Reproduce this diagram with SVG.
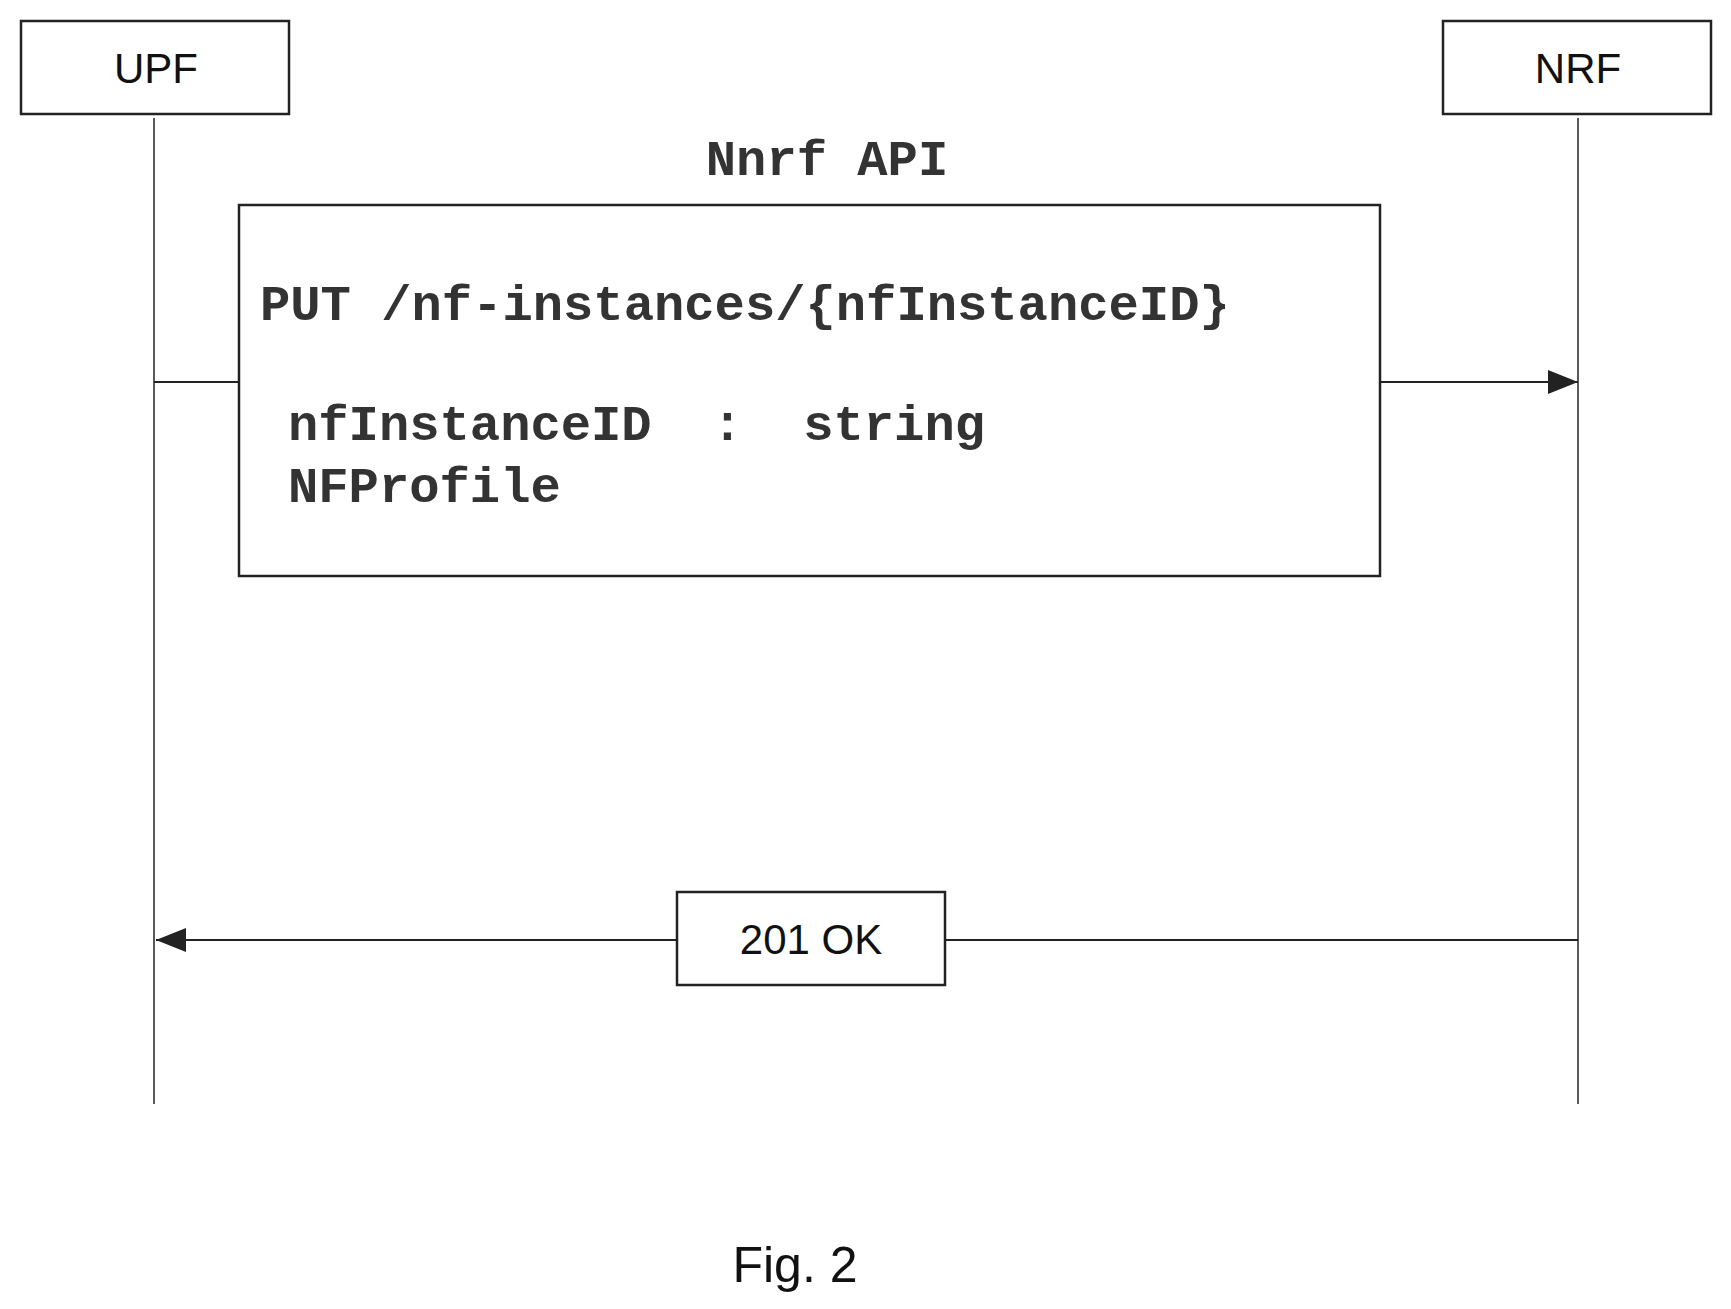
<svg xmlns="http://www.w3.org/2000/svg" width="1731" height="1309" viewBox="0 0 1731 1309">
<defs>
<style>
.box{fill:#fff;stroke:#222;stroke-width:2.5}
.life{stroke:#222;stroke-width:1.5}
.msg{stroke:#222;stroke-width:2}
.sans{font-family:"Liberation Sans Narrow","Liberation Sans",sans-serif;font-size:42px;fill:#111}
.mono{font-family:"Liberation Mono",monospace;font-weight:bold;font-size:50.5px;fill:#333}
</style>
<marker id="ah" viewBox="0 0 20 16" refX="20" refY="8" markerWidth="40" markerHeight="24" markerUnits="userSpaceOnUse" orient="auto">
<path d="M0,0 L20,8 L0,16 Z" fill="#222"/>
</marker>
</defs>
<rect width="1731" height="1309" fill="#fff"/>
<g id="upf">
<rect class="box" x="21" y="21" width="268" height="93"/>
<text class="sans" x="156" y="83" text-anchor="middle">UPF</text>
</g>
<g id="nrf">
<rect class="box" x="1443" y="21" width="268" height="93"/>
<text class="sans" x="1578" y="83" text-anchor="middle">NRF</text>
</g>
<g id="connectors">
<line class="life" x1="154" y1="118" x2="154" y2="1104"/>
<line class="life" x1="1578" y1="118" x2="1578" y2="1104"/>
<line class="msg" x1="154" y1="382" x2="239" y2="382"/>
<line class="msg" x1="1380" y1="382" x2="1578" y2="382" marker-end="url(#ah)"/>
<line class="msg" x1="1578" y1="940" x2="945" y2="940"/>
<line class="msg" x1="677" y1="940" x2="156" y2="940" marker-end="url(#ah)"/>
</g>
<text class="mono" x="827" y="175" text-anchor="middle">Nnrf API</text>
<g id="request">
<rect class="box" x="239" y="205" width="1141" height="371"/>
<text class="mono" x="260" y="320" xml:space="preserve">PUT /nf-instances/{nfInstanceID}</text>
<text class="mono" x="288" y="440" xml:space="preserve">nfInstanceID  :  string</text>
<text class="mono" x="288" y="502">NFProfile</text>
</g>
<g id="response">
<rect class="box" x="677" y="892" width="268" height="93"/>
<text class="sans" x="811" y="954" text-anchor="middle">201 OK</text>
</g>
<text class="sans" x="795" y="1282" text-anchor="middle" style="font-size:50px">Fig. 2</text>
</svg>
